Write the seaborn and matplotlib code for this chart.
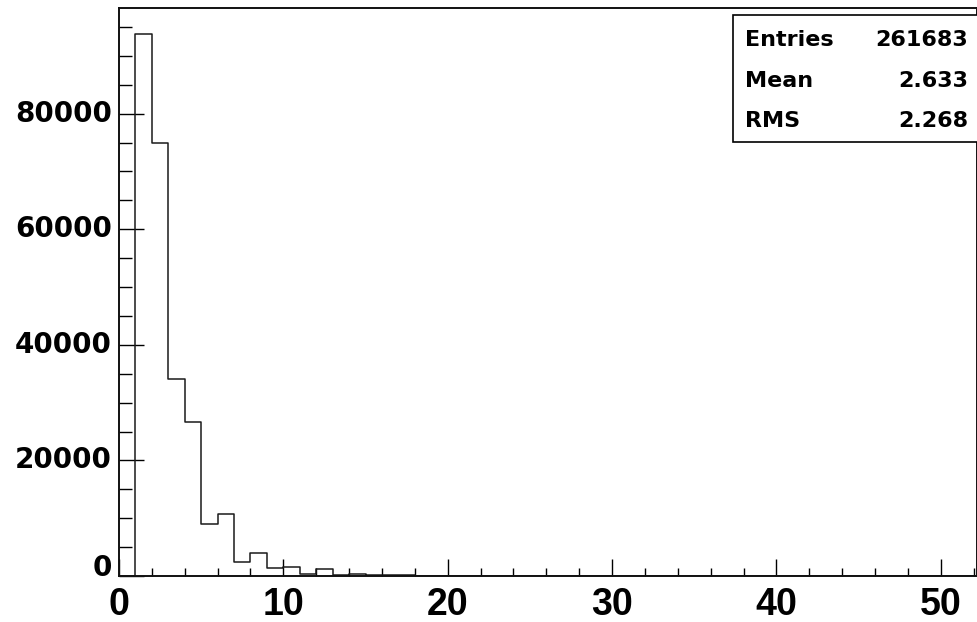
import numpy as np
import matplotlib
matplotlib.use("Agg")
import matplotlib.pyplot as plt
from matplotlib.ticker import MultipleLocator
from matplotlib.patches import Rectangle
import seaborn as sns

# Histogram contents, one entry per unit-wide bin starting at 0
bin_edges = list(range(0, 53))
bin_counts = [0, 93700, 74900, 34100, 26700, 9000, 10700, 2500, 3900, 1450,
              1600, 300, 1200, 150, 300, 250, 250, 100, 80, 60,
              50, 20, 10, 0, 0, 0, 0, 0, 0, 0,
              0, 0, 0, 0, 0, 0, 0, 0, 0, 0,
              0, 0, 0, 0, 0, 0, 0, 0, 0, 0,
              0, 0]
x_ticks = [0, 10, 20, 30, 40, 50]
y_ticks = [0, 20000, 40000, 60000, 80000]

stat_names = ["Entries", "Mean", "RMS"]
stat_values = ["261683", "2.633", "2.268"]

sns.set_style("ticks")
plt.rcParams["font.family"] = ["Liberation Sans", "DejaVu Sans"]
plt.rcParams["text.color"] = "black"
plt.rcParams["xtick.color"] = "black"
plt.rcParams["ytick.color"] = "black"
plt.rcParams["xtick.labelcolor"] = "black"
plt.rcParams["ytick.labelcolor"] = "black"

W, H = 978, 622
fig = plt.figure(figsize=(W / 100, H / 100), dpi=100)
fig.patch.set_facecolor("white")
ax = fig.add_axes([119 / W, 46 / H, 858 / W, 568 / H])

centers = [e + 0.5 for e in bin_edges[:-1]]
sns.histplot(x=centers, weights=bin_counts, bins=bin_edges, element="step",
             fill=False, color="#1a1a1a", linewidth=1.1, ax=ax)

ax.set_xlim(0, 52.2)
ax.set_ylim(0, 98270)
ax.set_xlabel("")
ax.set_ylabel("")

ax.set_xticks(x_ticks)
ax.set_yticks(y_ticks)
ax.xaxis.set_minor_locator(MultipleLocator(2))
ax.yaxis.set_minor_locator(MultipleLocator(5000))
ax.tick_params(axis="x", which="major", direction="in", length=12, width=1,
               color="black", pad=8)
ax.tick_params(axis="x", which="minor", direction="in", length=5.8, width=1,
               color="black")
ax.tick_params(axis="y", which="major", direction="in", length=18, width=1,
               color="black", pad=5)
ax.tick_params(axis="y", which="minor", direction="in", length=9.4, width=1,
               color="black")
ax.tick_params(top=False, right=False, which="both")

for lab in ax.get_xticklabels():
    lab.set_fontfamily("Liberation Sans")
    lab.set_fontweight("bold")
    lab.set_fontsize(27)
    lab.set_color("black")
for lab in ax.get_yticklabels():
    lab.set_fontfamily("DejaVu Sans")
    lab.set_fontweight("bold")
    lab.set_fontsize(20)
    lab.set_color("black")
    lab.set_verticalalignment("baseline" if lab.get_text() == "0" else "center")

for sp in ax.spines.values():
    sp.set_visible(True)
    sp.set_linewidth(1.4)
    sp.set_color("#111111")

# Statistics box in the upper right corner
box = Rectangle((733 / W, 1 - 142 / H), (W - 733) / W + 0.01, (142 - 15) / H,
                transform=fig.transFigure, facecolor="white",
                edgecolor="black", linewidth=1.2, zorder=5)
fig.patches.append(box)
row_y = [40, 81, 121]
for name, val, yy in zip(stat_names, stat_values, row_y):
    fig.text(745 / W, 1 - yy / H, name, ha="left", va="center", color="black",
             fontsize=16, fontweight="bold", family="DejaVu Sans", zorder=6)
    fig.text(968 / W, 1 - yy / H, val, ha="right", va="center", color="black",
             fontsize=16, fontweight="bold", family="DejaVu Sans", zorder=6)

fig.savefig("out.png", dpi=100)
